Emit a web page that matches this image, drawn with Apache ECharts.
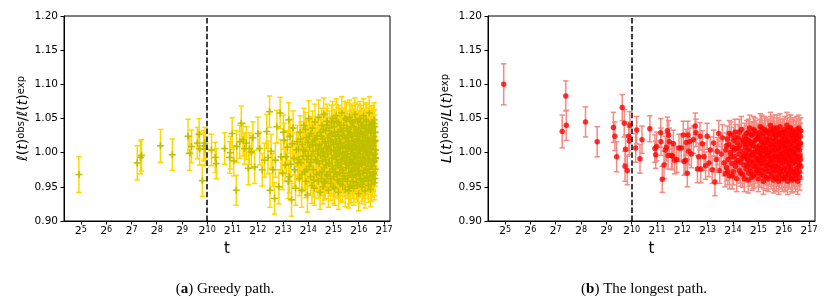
<!DOCTYPE html>
<html>
<head>
<meta charset="utf-8">
<script src="https://cdn.jsdelivr.net/npm/echarts@6/dist/echarts.min.js"></script>
<style>html,body{margin:0;padding:0;background:#fff}#c{width:831px;height:300px}</style>
</head>
<body>
<div id="c"></div>
<script>
// ---------- DATA ----------
// x ticks: exponents n of 2^n
const xTickExps = [5,6,7,8,9,10,11,12,13,14,15,16,17];
const yTicks = [0.90,0.95,1.00,1.05,1.10,1.15,1.20];
const cutoffExp = 10; // dashed line at t = 2^10
const captions = [['a','Greedy path.'],['b','The longest path.']];
const yNames = ['ℓ','L'];

// Greedy path: [log2 t, ratio, error]
const greedyPoints = [
[4.92,0.968,0.026],[7.23,0.985,0.025],[7.36,0.993,0.024],[7.40,0.996,0.023],[8.15,1.010,0.024],
[8.62,0.997,0.023],[9.24,1.024,0.025],[9.31,0.999,0.025],[9.38,1.009,0.024],[9.61,1.014,0.023],
[9.68,1.027,0.023],[9.70,1.006,0.024],[9.81,0.959,0.023],[9.86,1.010,0.022],[9.91,1.014,0.023],
[9.93,1.005,0.024],[10.17,1.004,0.023],[10.32,0.993,0.022],[10.36,0.984,0.022],[10.69,1.006,0.023],
[10.89,0.993,0.023],[10.92,1.000,0.024],[10.99,1.028,0.023],[11.05,0.988,0.022],[11.15,0.945,0.022],
[11.17,1.009,0.023],[11.29,1.016,0.024],[11.35,1.043,0.025],[11.42,1.019,0.024],[11.48,1.006,0.023],
[11.55,1.014,0.024],[11.63,0.977,0.024],[11.67,1.006,0.023],[11.75,1.001,0.024],[11.81,1.022,0.023],
[11.88,0.979,0.024],[12.01,1.028,0.024],[12.08,1.006,0.024],[12.18,0.975,0.024],[12.27,0.989,0.025],
[12.36,1.031,0.025],[12.41,0.993,0.024],[12.47,1.060,0.023],[12.49,0.945,0.025],[12.53,1.002,0.025],
[12.60,0.975,0.024],[12.67,0.933,0.023],[12.70,0.989,0.025],[12.76,1.038,0.024],[12.84,0.950,0.025],
[12.89,1.058,0.023],[12.92,0.994,0.025],[12.99,0.970,0.024],[13.02,1.030,0.025],[13.05,1.018,0.025],
[13.09,0.982,0.024],[13.13,0.994,0.025],[13.18,1.008,0.024],[13.21,0.958,0.025],[13.23,1.048,0.025],
[13.25,0.965,0.024],[13.28,1.024,0.025],[13.31,0.983,0.025],[13.34,0.931,0.024],[13.37,1.013,0.024],
[13.40,1.036,0.025],[13.44,0.992,0.025],[13.47,0.975,0.024],[13.50,0.948,0.025],[13.53,1.004,0.025],
[13.57,1.016,0.024],[13.59,0.985,0.025],
[13.62,1.005,0.025],[13.65,0.962,0.025],[13.68,1.030,0.024],[13.71,0.985,0.025],[13.74,0.945,0.025],
[13.77,1.012,0.025],[13.80,0.995,0.024],[13.83,1.040,0.025],[13.86,0.972,0.025],[13.88,1.002,0.025],
[13.91,0.958,0.024],[13.93,1.022,0.025],[13.95,0.990,0.025],[13.97,0.938,0.025],[13.99,1.015,0.024],
[14.02,1.050,0.026],[14.04,0.980,0.025],[14.06,1.008,0.025],[14.09,0.965,0.025],[14.11,1.028,0.025],
[14.13,0.995,0.025],[14.15,0.952,0.026],[14.17,1.036,0.025],[14.19,1.002,0.025],[14.21,0.975,0.025],
[14.23,1.018,0.025],[14.25,0.948,0.025],[14.27,1.045,0.026],[14.29,0.990,0.025],[14.31,1.010,0.025],
[14.33,0.968,0.025],[14.35,1.025,0.025],[14.37,0.998,0.025],[14.39,0.958,0.025],[14.41,1.052,0.025],
[14.43,0.984,0.025],[14.45,1.012,0.025],[14.47,0.942,0.025],[14.48,1.030,0.025],[14.49,0.996,0.025],
[14.51,1.006,0.025],[14.53,0.962,0.025],[14.54,1.040,0.025],[14.56,0.988,0.025],[14.57,1.020,0.025],
[14.59,0.950,0.025],[14.60,1.002,0.025],[14.62,1.056,0.024],[14.63,0.978,0.025],[14.65,1.014,0.025],
[14.66,0.994,0.025],[14.68,0.958,0.025],[14.69,1.032,0.025],[14.71,0.982,0.025],[14.72,1.008,0.025],
[14.74,0.968,0.025],[14.75,1.046,0.025],[14.77,0.998,0.025],[14.78,1.022,0.025],[14.80,0.945,0.025],
[14.81,1.010,0.025],[14.83,0.986,0.025],[14.84,1.036,0.025],[14.86,0.972,0.025],[14.87,1.004,0.025],
[14.89,1.018,0.025],[14.90,0.955,0.025],[14.92,1.028,0.025],[14.94,0.992,0.025],[14.96,1.050,0.025],
[14.98,0.976,0.025],
[15.00,1.012,0.025],[15.01,0.965,0.025],[15.03,1.038,0.025],[15.04,0.996,0.025],[15.05,0.948,0.025],
[15.07,1.024,0.025],[15.08,1.002,0.025],[15.09,0.980,0.025],[15.11,1.054,0.025],[15.12,0.990,0.025],
[15.13,1.016,0.025],[15.15,0.960,0.025],[15.16,1.030,0.025],[15.17,0.986,0.025],[15.19,1.008,0.025],
[15.20,0.942,0.025],[15.21,1.044,0.025],[15.23,0.998,0.025],[15.24,1.020,0.025],[15.25,0.970,0.025],
[15.27,1.006,0.025],[15.28,0.954,0.025],[15.29,1.034,0.025],[15.31,0.984,0.025],[15.32,1.012,0.025],
[15.33,1.058,0.024],[15.35,0.975,0.025],[15.36,1.000,0.025],[15.37,0.962,0.025],[15.39,1.026,0.025],
[15.40,0.992,0.025],[15.41,1.040,0.025],[15.43,0.966,0.025],[15.44,1.010,0.025],[15.45,0.988,0.025],
[15.47,0.946,0.025],[15.48,1.022,0.025],[15.49,1.002,0.025],[15.50,0.978,0.025],
[15.51,1.048,0.025],[15.53,0.994,0.025],[15.54,1.016,0.025],[15.55,0.958,0.025],[15.56,1.032,0.025],
[15.58,0.982,0.025],[15.59,1.006,0.025],[15.60,0.944,0.025],[15.61,1.026,0.025],[15.63,0.990,0.025],
[15.64,1.052,0.025],[15.65,0.970,0.025],[15.66,1.010,0.025],[15.68,0.998,0.025],[15.69,0.952,0.025],
[15.70,1.038,0.025],[15.71,0.985,0.025],[15.73,1.018,0.025],[15.74,0.964,0.025],[15.75,1.004,0.025],
[15.76,1.044,0.025],[15.78,0.976,0.025],[15.79,1.012,0.025],[15.80,0.990,0.025],[15.81,0.948,0.025],
[15.83,1.028,0.025],[15.84,0.996,0.025],[15.85,1.056,0.024],[15.86,0.968,0.025],[15.88,1.008,0.025],
[15.89,0.984,0.025],[15.90,1.034,0.025],[15.91,0.956,0.025],[15.93,1.020,0.025],[15.94,1.000,0.025],
[15.95,0.974,0.025],[15.96,1.046,0.025],[15.98,0.992,0.025],[15.99,1.014,0.025],[16.00,0.940,0.025],
[16.01,1.024,0.025],[16.02,0.980,0.025],[16.03,1.006,0.025],[16.05,1.050,0.025],[16.06,0.962,0.025],
[16.07,0.998,0.025],[16.08,1.030,0.025],[16.09,0.986,0.025],[16.11,1.012,0.025],[16.12,0.950,0.025],
[16.13,1.040,0.025],[16.14,0.994,0.025],[16.15,1.018,0.025],[16.17,0.970,0.025],[16.18,1.004,0.025],
[16.19,1.054,0.025],[16.20,0.958,0.025],[16.21,1.026,0.025],[16.23,0.988,0.025],[16.24,1.010,0.025],
[16.25,0.944,0.025],[16.26,1.036,0.025],[16.27,0.996,0.025],[16.29,1.016,0.025],[16.30,0.976,0.025],
[16.31,1.046,0.025],[16.32,1.002,0.025],[16.33,0.964,0.025],[16.35,1.022,0.025],[16.36,0.984,0.025],
[16.37,1.008,0.025],[16.38,0.952,0.025],[16.39,1.034,0.025],[16.41,0.992,0.025],[16.42,1.058,0.024],
[16.43,0.972,0.025],[16.44,1.014,0.025],[16.45,0.998,0.025],[16.47,0.946,0.025],[16.48,1.028,0.025],
[16.49,0.980,0.025],[16.50,1.042,0.025],[16.51,1.006,0.025],[16.53,0.960,0.025],[16.54,1.020,0.025],
[16.55,0.990,0.025],[16.56,1.036,0.025],[16.57,0.968,0.025],[16.58,1.010,0.025],[16.60,0.986,0.025],
[16.61,1.048,0.025],[16.62,0.956,0.025],[16.63,1.016,0.025],[16.64,0.998,0.025],[16.65,1.030,0.025],
[16.66,0.976,0.025],[16.67,1.004,0.025]
];
// Greedy path, additional points in the crowded large-t range
const greedyPointsCrowded = [
[13.63,0.990,0.025],[13.70,1.020,0.025],[13.76,0.968,0.025],[13.82,1.004,0.025],[13.89,1.034,0.025],
[13.94,0.975,0.025],[14.00,0.996,0.025],[14.05,1.024,0.025],[14.10,0.986,0.025],[14.16,1.012,0.025],
[14.22,0.960,0.025],[14.28,1.020,0.025],[14.34,0.988,0.025],[14.40,1.004,0.025],[14.46,0.970,0.025],
[14.52,1.024,0.025],[14.55,0.972,0.025],[14.58,1.000,0.025],[14.61,1.034,0.025],[14.64,0.956,0.025],
[14.67,1.016,0.025],[14.70,0.990,0.025],[14.73,1.040,0.025],[14.76,0.966,0.025],[14.79,1.006,0.025],
[14.82,0.984,0.025],[14.85,1.026,0.025],[14.88,0.962,0.025],[14.91,1.002,0.025],[14.93,1.044,0.025],
[14.95,0.980,0.025],[14.97,1.016,0.025],[14.99,0.950,0.025],
[15.02,1.004,0.025],[15.04,1.030,0.025],[15.06,0.972,0.025],[15.08,1.016,0.025],[15.10,0.994,0.025],
[15.12,1.046,0.025],[15.14,0.968,0.025],[15.16,1.008,0.025],[15.18,0.982,0.025],[15.20,1.026,0.025],
[15.22,0.958,0.025],[15.24,1.000,0.025],[15.26,1.040,0.025],[15.28,0.978,0.025],[15.30,1.014,0.025],
[15.32,0.990,0.025],[15.34,1.032,0.025],[15.36,0.952,0.025],[15.38,1.010,0.025],[15.40,0.970,0.025],
[15.42,1.024,0.025],[15.44,0.996,0.025],[15.46,1.050,0.025],[15.48,0.962,0.025],[15.50,1.008,0.025],
[15.52,0.984,0.025],[15.54,1.036,0.025],[15.56,0.998,0.025],[15.57,0.966,0.025],[15.59,1.022,0.025],
[15.61,0.978,0.025],[15.62,1.012,0.025],[15.64,0.950,0.025],[15.66,1.030,0.025],[15.67,0.990,0.025],
[15.69,1.046,0.025],[15.71,0.972,0.025],[15.72,1.006,0.025],[15.74,0.986,0.025],[15.76,1.024,0.025],
[15.77,0.958,0.025],[15.79,1.000,0.025],[15.81,1.038,0.025],[15.82,0.978,0.025],[15.84,1.016,0.025],
[15.86,0.994,0.025],[15.87,1.048,0.025],[15.89,0.966,0.025],[15.90,1.010,0.025],[15.92,0.982,0.025],
[15.94,1.028,0.025],[15.95,0.952,0.025],[15.97,1.004,0.025],[15.99,0.974,0.025],
[16.00,1.036,0.025],[16.02,1.002,0.025],[16.03,0.968,0.025],[16.05,1.018,0.025],[16.06,0.988,0.025],
[16.08,1.044,0.025],[16.09,0.960,0.025],[16.11,1.008,0.025],[16.12,0.982,0.025],[16.14,1.028,0.025],
[16.15,0.954,0.025],[16.17,1.012,0.025],[16.18,0.992,0.025],[16.20,1.038,0.025],[16.21,0.974,0.025],
[16.23,1.004,0.025],[16.24,0.962,0.025],[16.26,1.022,0.025],[16.27,0.984,0.025],[16.29,1.048,0.025],
[16.30,1.000,0.025],[16.32,0.970,0.025],[16.33,1.030,0.025],[16.35,0.990,0.025],[16.36,1.012,0.025],
[16.38,0.958,0.025],[16.39,1.020,0.025],[16.41,0.976,0.025],[16.42,1.040,0.025],[16.44,1.000,0.025],
[16.45,0.966,0.025],[16.47,1.016,0.025],[16.48,0.986,0.025],[16.50,1.032,0.025],[16.51,0.954,0.025],
[16.53,1.010,0.025],[16.54,0.980,0.025],[16.56,1.044,0.025],[16.57,0.996,0.025],[16.59,0.970,0.025],
[16.60,1.024,0.025],[16.62,0.988,0.025],[16.63,1.038,0.025],[16.64,0.962,0.025],[16.66,1.018,0.025],
[16.67,0.992,0.025]
];

// Longest path: [log2 t, ratio, error]
const longestPoints = [
[4.95,1.100,0.030],[7.26,1.031,0.024],[7.40,1.083,0.022],[7.42,1.040,0.022],[8.18,1.045,0.022],
[8.64,1.016,0.022],[9.28,1.037,0.022],[9.34,1.024,0.021],[9.41,0.994,0.022],[9.63,1.066,0.019],
[9.71,1.043,0.020],[9.74,0.980,0.022],[9.76,1.005,0.021],[9.83,0.974,0.021],[9.89,1.024,0.021],
[9.91,1.017,0.020],[9.93,1.040,0.020],[10.16,1.007,0.021],[10.20,1.033,0.020],[10.33,0.991,0.021],
[10.41,1.019,0.020],[10.72,1.035,0.019],[10.92,1.006,0.020],[10.95,0.997,0.020],[10.99,1.009,0.021],
[11.15,1.029,0.021],[11.16,1.016,0.020],[11.21,0.961,0.019],[11.28,0.982,0.020],[11.33,1.004,0.020],
[11.37,1.008,0.020],[11.41,1.032,0.020],[11.44,0.996,0.020],[11.46,1.026,0.021],[11.49,1.016,0.020],
[11.57,0.996,0.020],[11.61,0.995,0.020],[11.65,1.013,0.020],[11.70,0.989,0.020],[11.78,0.990,0.019],
[11.87,1.007,0.020],[11.96,1.007,0.020],[12.04,1.026,0.020],[12.07,0.987,0.020],[12.13,0.989,0.020],
[12.15,1.015,0.019],[12.20,0.970,0.020],[12.22,1.026,0.020],[12.25,1.002,0.020],[12.29,1.016,0.020],
[12.36,0.998,0.020],[12.44,1.019,0.020],[12.51,1.039,0.019],[12.54,1.029,0.020],[12.60,0.976,0.020],
[12.65,0.994,0.020],[12.70,1.024,0.020],[12.73,0.976,0.020],[12.79,1.013,0.019],[12.86,0.994,0.020],
[12.92,0.981,0.020],[12.98,1.024,0.019],[13.05,0.985,0.020],[13.11,1.004,0.019],[13.18,0.975,0.020],
[13.24,1.014,0.019],[13.29,0.957,0.020],[13.34,0.990,0.019],[13.38,1.002,0.020],[13.44,1.028,0.019],
[13.48,0.974,0.019],[13.54,0.998,0.019],[13.58,1.022,0.019],[13.65,0.985,0.019],[13.69,0.969,0.019],
[13.72,1.004,0.019],[13.75,0.978,0.019],[13.78,1.020,0.019],[13.81,0.990,0.019],[13.84,1.012,0.019],
[13.87,0.966,0.019],[13.90,1.000,0.019],[13.93,1.026,0.019],[13.96,0.984,0.019],[13.99,1.008,0.019],
[14.01,0.972,0.019],[14.03,1.018,0.019],[14.06,0.994,0.019],[14.08,1.030,0.019],[14.10,0.980,0.019],
[14.12,1.006,0.019],[14.15,0.962,0.019],[14.17,1.014,0.019],[14.19,0.988,0.019],[14.21,1.022,0.019],
[14.24,0.998,0.019],[14.26,0.974,0.019],[14.28,1.010,0.019],[14.30,0.986,0.019],[14.33,1.034,0.019],
[14.35,0.992,0.019],[14.37,1.002,0.019],[14.39,0.968,0.019],[14.42,1.016,0.019],[14.44,0.982,0.019],
[14.46,1.024,0.019],[14.48,0.996,0.019],
[14.50,1.008,0.019],[14.52,0.976,0.019],[14.54,1.028,0.019],[14.56,0.990,0.019],[14.58,1.004,0.019],
[14.60,0.960,0.019],[14.62,1.018,0.019],[14.64,0.984,0.019],[14.66,1.036,0.019],[14.68,0.996,0.019],
[14.70,0.972,0.019],[14.72,1.012,0.019],[14.74,0.988,0.019],[14.76,1.026,0.019],[14.78,1.000,0.019],
[14.80,0.966,0.019],[14.82,1.014,0.019],[14.84,0.980,0.019],[14.86,1.032,0.019],[14.88,0.994,0.019],
[14.90,1.006,0.019],[14.92,0.974,0.019],[14.94,1.020,0.019],[14.96,0.986,0.019],[14.98,1.002,0.019],
[15.00,0.962,0.019],[15.02,1.024,0.019],[15.03,0.992,0.019],[15.05,1.010,0.019],[15.07,0.978,0.019],
[15.08,1.038,0.019],[15.10,0.998,0.019],[15.12,0.968,0.019],[15.13,1.016,0.019],[15.15,0.984,0.019],
[15.17,1.028,0.019],[15.18,1.002,0.019],[15.20,0.958,0.019],[15.22,1.012,0.019],[15.23,0.990,0.019],
[15.25,1.034,0.019],[15.27,0.976,0.019],[15.28,1.006,0.019],[15.30,0.994,0.019],[15.32,1.020,0.019],
[15.33,0.964,0.019],[15.35,1.000,0.019],[15.37,1.030,0.019],[15.38,0.982,0.019],[15.40,1.014,0.019],
[15.42,0.996,0.019],[15.43,0.972,0.019],[15.45,1.022,0.019],[15.47,0.988,0.019],[15.48,1.040,0.019],
[15.50,1.004,0.019],[15.51,0.966,0.019],[15.53,1.018,0.019],[15.54,0.992,0.019],[15.56,1.028,0.019],
[15.57,0.980,0.019],[15.59,1.008,0.019],[15.60,0.960,0.019],[15.62,1.036,0.019],[15.63,0.996,0.019],
[15.65,1.012,0.019],[15.66,0.974,0.019],[15.68,1.024,0.019],[15.69,0.986,0.019],[15.71,1.002,0.019],
[15.72,0.962,0.019],[15.74,1.032,0.019],[15.75,0.994,0.019],[15.77,1.016,0.019],[15.78,0.978,0.019],
[15.80,1.006,0.019],[15.81,0.958,0.019],[15.83,1.026,0.019],[15.84,0.990,0.019],[15.86,1.038,0.019],
[15.87,0.972,0.019],[15.89,1.010,0.019],[15.90,0.998,0.019],[15.92,0.968,0.019],[15.93,1.020,0.019],
[15.95,0.984,0.019],[15.96,1.030,0.019],[15.98,1.000,0.019],
[16.00,0.976,0.019],[16.01,1.014,0.019],[16.03,0.962,0.019],[16.04,1.034,0.019],[16.05,0.992,0.019],
[16.07,1.006,0.019],[16.08,0.970,0.019],[16.10,1.024,0.019],[16.11,0.986,0.019],[16.13,1.040,0.019],
[16.14,0.998,0.019],[16.16,0.958,0.019],[16.17,1.016,0.019],[16.19,0.980,0.019],[16.20,1.028,0.019],
[16.22,1.002,0.019],[16.23,0.966,0.019],[16.25,1.012,0.019],[16.26,0.990,0.019],[16.28,1.036,0.019],
[16.29,0.974,0.019],[16.31,1.008,0.019],[16.32,0.996,0.019],[16.34,0.960,0.019],[16.35,1.022,0.019],
[16.37,0.984,0.019],[16.38,1.032,0.019],[16.40,1.000,0.019],[16.41,0.970,0.019],[16.43,1.018,0.019],
[16.44,0.988,0.019],[16.46,1.026,0.019],[16.47,0.962,0.019],[16.49,1.010,0.019],[16.50,0.994,0.019],
[16.52,1.034,0.019],[16.53,0.978,0.019],[16.55,1.004,0.019],[16.56,0.958,0.019],[16.58,1.020,0.019],
[16.59,0.986,0.019],[16.61,1.030,0.019],[16.62,0.972,0.019],[16.64,1.012,0.019],[16.65,0.996,0.019],
[16.67,1.024,0.019],[16.68,0.980,0.019]
];
// Longest path, additional points in the crowded large-t range
const longestPointsCrowded = [
[13.74,1.010,0.019],[13.80,0.972,0.019],[13.86,1.028,0.019],[13.92,0.994,0.019],[13.98,0.966,0.019],
[14.04,1.004,0.019],[14.09,1.022,0.019],[14.14,0.986,0.019],[14.20,1.006,0.019],[14.25,1.030,0.019],
[14.31,0.970,0.019],[14.36,1.018,0.019],[14.41,0.994,0.019],[14.45,0.962,0.019],[14.49,1.012,0.019],
[14.51,0.998,0.019],[14.53,1.020,0.019],[14.55,0.982,0.019],[14.57,1.012,0.019],[14.59,0.990,0.019],
[14.61,1.030,0.019],[14.63,0.970,0.019],[14.65,1.004,0.019],[14.67,1.016,0.019],[14.69,0.978,0.019],
[14.71,1.026,0.019],[14.73,0.996,0.019],[14.75,0.964,0.019],[14.77,1.010,0.019],[14.79,0.986,0.019],
[14.81,1.034,0.019],[14.83,1.000,0.019],[14.85,0.968,0.019],[14.87,1.018,0.019],[14.89,0.980,0.019],
[14.91,1.028,0.019],[14.93,0.992,0.019],[14.95,1.008,0.019],[14.97,0.974,0.019],[14.99,1.022,0.019],
[15.01,0.988,0.019],[15.02,1.000,0.019],[15.04,0.970,0.019],[15.06,1.030,0.019],[15.07,1.006,0.019],
[15.09,0.984,0.019],[15.11,1.018,0.019],[15.12,0.994,0.019],[15.14,1.036,0.019],[15.16,0.974,0.019],
[15.17,1.008,0.019],[15.19,0.990,0.019],[15.21,1.024,0.019],[15.22,0.966,0.019],[15.24,1.002,0.019],
[15.26,1.014,0.019],[15.27,0.982,0.019],[15.29,1.032,0.019],[15.31,0.996,0.019],[15.32,0.972,0.019],
[15.34,1.018,0.019],[15.36,0.986,0.019],[15.37,1.006,0.019],[15.39,0.962,0.019],[15.41,1.028,0.019],
[15.42,1.000,0.019],[15.44,0.978,0.019],[15.46,1.012,0.019],[15.47,0.992,0.019],[15.49,1.034,0.019],
[15.50,0.982,0.019],[15.52,1.010,0.019],[15.53,0.970,0.019],[15.55,1.002,0.019],[15.56,0.988,0.019],
[15.58,1.032,0.019],[15.59,0.976,0.019],[15.61,1.016,0.019],[15.62,0.994,0.019],[15.64,1.026,0.019],
[15.65,0.964,0.019],[15.67,1.004,0.019],[15.68,0.980,0.019],[15.70,1.020,0.019],[15.71,0.990,0.019],
[15.73,1.036,0.019],[15.74,0.970,0.019],[15.76,1.008,0.019],[15.77,0.996,0.019],[15.79,1.028,0.019],
[15.80,0.982,0.019],[15.82,1.014,0.019],[15.83,0.966,0.019],[15.85,1.002,0.019],[15.86,0.988,0.019],
[15.88,1.030,0.019],[15.89,0.976,0.019],[15.91,1.016,0.019],[15.92,0.994,0.019],[15.94,1.008,0.019],
[15.95,0.962,0.019],[15.97,1.024,0.019],[15.98,0.986,0.019],[15.99,1.012,0.019],
[16.00,1.030,0.019],[16.02,0.994,0.019],[16.03,1.020,0.019],[16.04,0.978,0.019],[16.06,1.010,0.019],
[16.07,0.964,0.019],[16.09,1.002,0.019],[16.10,0.988,0.019],[16.12,1.016,0.019],[16.13,0.974,0.019],
[16.15,1.032,0.019],[16.16,0.996,0.019],[16.18,1.008,0.019],[16.19,0.968,0.019],[16.21,1.020,0.019],
[16.22,0.984,0.019],[16.24,1.036,0.019],[16.25,0.994,0.019],[16.27,1.004,0.019],[16.28,0.978,0.019],
[16.30,1.026,0.019],[16.31,0.962,0.019],[16.33,1.014,0.019],[16.34,0.990,0.019],[16.36,1.030,0.019],
[16.37,1.002,0.019],[16.39,0.972,0.019],[16.40,1.018,0.019],[16.42,0.986,0.019],[16.43,1.006,0.019],
[16.45,0.966,0.019],[16.46,0.998,0.019],[16.48,1.028,0.019],[16.49,0.976,0.019],[16.51,1.016,0.019],
[16.52,0.990,0.019],[16.54,1.022,0.019],[16.55,0.970,0.019],[16.57,1.008,0.019],[16.58,0.994,0.019],
[16.60,1.036,0.019],[16.61,0.982,0.019],[16.63,1.004,0.019],[16.64,0.964,0.019],[16.66,1.014,0.019],
[16.67,0.990,0.019],[16.68,1.032,0.019]
];

// ---------- STYLE ----------
const FONT = "'DejaVu Sans', sans-serif";
const X_MIN = 4.33, X_MAX = 17.24;
const panels = [
  {left: 64, right: 441, points: greedyPoints.concat(greedyPointsCrowded), barColor: '#ffd700', markColor: '#bfbf00', marker: 'plus'},
  {left: 488, right: 16, points: longestPoints.concat(longestPointsCrowded), barColor: '#f28b82', markColor: '#ff0000', marker: 'dot'}
];

const chart = echarts.init(document.getElementById('c'), null, {renderer: 'canvas'});

const grids = [], xAxes = [], yAxes = [], series = [];
panels.forEach((p, i) => {
  grids.push({left: p.left, right: p.right, top: 16, bottom: 79, show: true, borderColor: '#000', borderWidth: 1, containLabel: false});
  xAxes.push({
    type: 'value', gridIndex: i, min: X_MIN, max: X_MAX,
    name: 't', nameLocation: 'middle', nameGap: 18,
    nameTextStyle: {fontFamily: FONT, fontSize: 15, color: '#000'},
    axisLine: {show: true, lineStyle: {color: '#000', width: 1}},
    axisTick: {show: true, inside: false, length: 3.5, lineStyle: {color: '#000', width: 1}, customValues: xTickExps},
    axisLabel: {
      show: true, margin: 5, customValues: xTickExps,
      formatter: v => '{b|2}{s|' + v + '}',
      rich: {
        b: {fontFamily: FONT, fontSize: 11, color: '#000'},
        s: {fontFamily: FONT, fontSize: 8, color: '#000', verticalAlign: 'top', padding: [0, 0, 3, 0]}
      }
    },
    splitLine: {show: false}
  });
  const nm = yNames[i];
  yAxes.push({
    type: 'value', gridIndex: i, min: yTicks[0], max: yTicks[yTicks.length - 1], interval: 0.05,
    name: '{i|' + nm + '}{n|(}{i|t}{n|)}{s|obs}{n|/}{i|' + nm + '}{n|(}{i|t}{n|)}{s|exp}',
    nameLocation: 'middle', nameGap: 17,
    nameTextStyle: {
      color: '#000',
      rich: {
        i: {fontFamily: FONT, fontSize: 14, fontStyle: 'italic', color: '#000'},
        n: {fontFamily: FONT, fontSize: 14, color: '#000'},
        s: {fontFamily: FONT, fontSize: 10, color: '#000', verticalAlign: 'top', padding: [0, 0, 4, 0]}
      }
    },
    axisLine: {show: true, lineStyle: {color: '#000', width: 1}},
    axisTick: {show: true, inside: false, length: 3.5, lineStyle: {color: '#000', width: 1}},
    axisLabel: {show: true, margin: 6, fontFamily: FONT, fontSize: 10.5, color: '#000', formatter: v => v.toFixed(2)},
    splitLine: {show: false}
  });

  // error bars
  series.push({
    type: 'custom', xAxisIndex: i, yAxisIndex: i, z: 2, silent: true, clip: true,
    data: p.points,
    encode: {x: 0, y: 1},
    renderItem: (params, api) => {
      const x = api.value(0), y = api.value(1), e = api.value(2);
      const t = api.coord([x, y + e]), b = api.coord([x, y - e]);
      const cw = 2.7;
      const st = {stroke: p.barColor, lineWidth: 1.5};
      return {type: 'group', children: [
        {type: 'line', shape: {x1: t[0], y1: t[1], x2: b[0], y2: b[1]}, style: st},
        {type: 'line', shape: {x1: t[0] - cw, y1: t[1], x2: t[0] + cw, y2: t[1]}, style: st},
        {type: 'line', shape: {x1: b[0] - cw, y1: b[1], x2: b[0] + cw, y2: b[1]}, style: st}
      ]};
    }
  });
  // markers
  if (p.marker === 'plus') {
    series.push({
      type: 'custom', xAxisIndex: i, yAxisIndex: i, z: 3, silent: true,
      data: p.points, encode: {x: 0, y: 1},
      renderItem: (params, api) => {
        const c = api.coord([api.value(0), api.value(1)]);
        const h = 3.5;
        const st = {stroke: p.markColor, lineWidth: 1.6};
        return {type: 'group', children: [
          {type: 'line', shape: {x1: c[0] - h, y1: c[1], x2: c[0] + h, y2: c[1]}, style: st},
          {type: 'line', shape: {x1: c[0], y1: c[1] - h, x2: c[0], y2: c[1] + h}, style: st}
        ]};
      }
    });
  } else {
    series.push({
      type: 'scatter', xAxisIndex: i, yAxisIndex: i, z: 3, silent: true,
      data: p.points.map(r => [r[0], r[1]]),
      symbol: 'circle', symbolSize: 5.5,
      itemStyle: {color: p.markColor}
    });
  }
  // dashed cutoff line
  series.push({
    type: 'line', xAxisIndex: i, yAxisIndex: i, z: 5, data: [], silent: true,
    markLine: {
      silent: true, symbol: 'none', animation: false,
      label: {show: false},
      lineStyle: {color: '#000', type: [5.5, 2.4], width: 1.5},
      data: [{xAxis: cutoffExp}]
    }
  });
});

const capCenters = [225, 644];

chart.setOption({
  animation: false,
  backgroundColor: '#fff',
  grid: grids, xAxis: xAxes, yAxis: yAxes, series: series,
  graphic: captions.map((c, i) => ({
    type: 'text', x: capCenters[i], y: 289,
    style: {
      text: '{n|(}{b|' + c[0] + '}{n|) ' + c[1] + '}',
      align: 'center', verticalAlign: 'middle',
      rich: {
        n: {fontFamily: "'Liberation Serif', serif", fontSize: 15, color: '#000'},
        b: {fontFamily: "'Liberation Serif', serif", fontSize: 15, fontWeight: 'bold', color: '#000'}
      }
    }
  }))
});
</script>
</body>
</html>
